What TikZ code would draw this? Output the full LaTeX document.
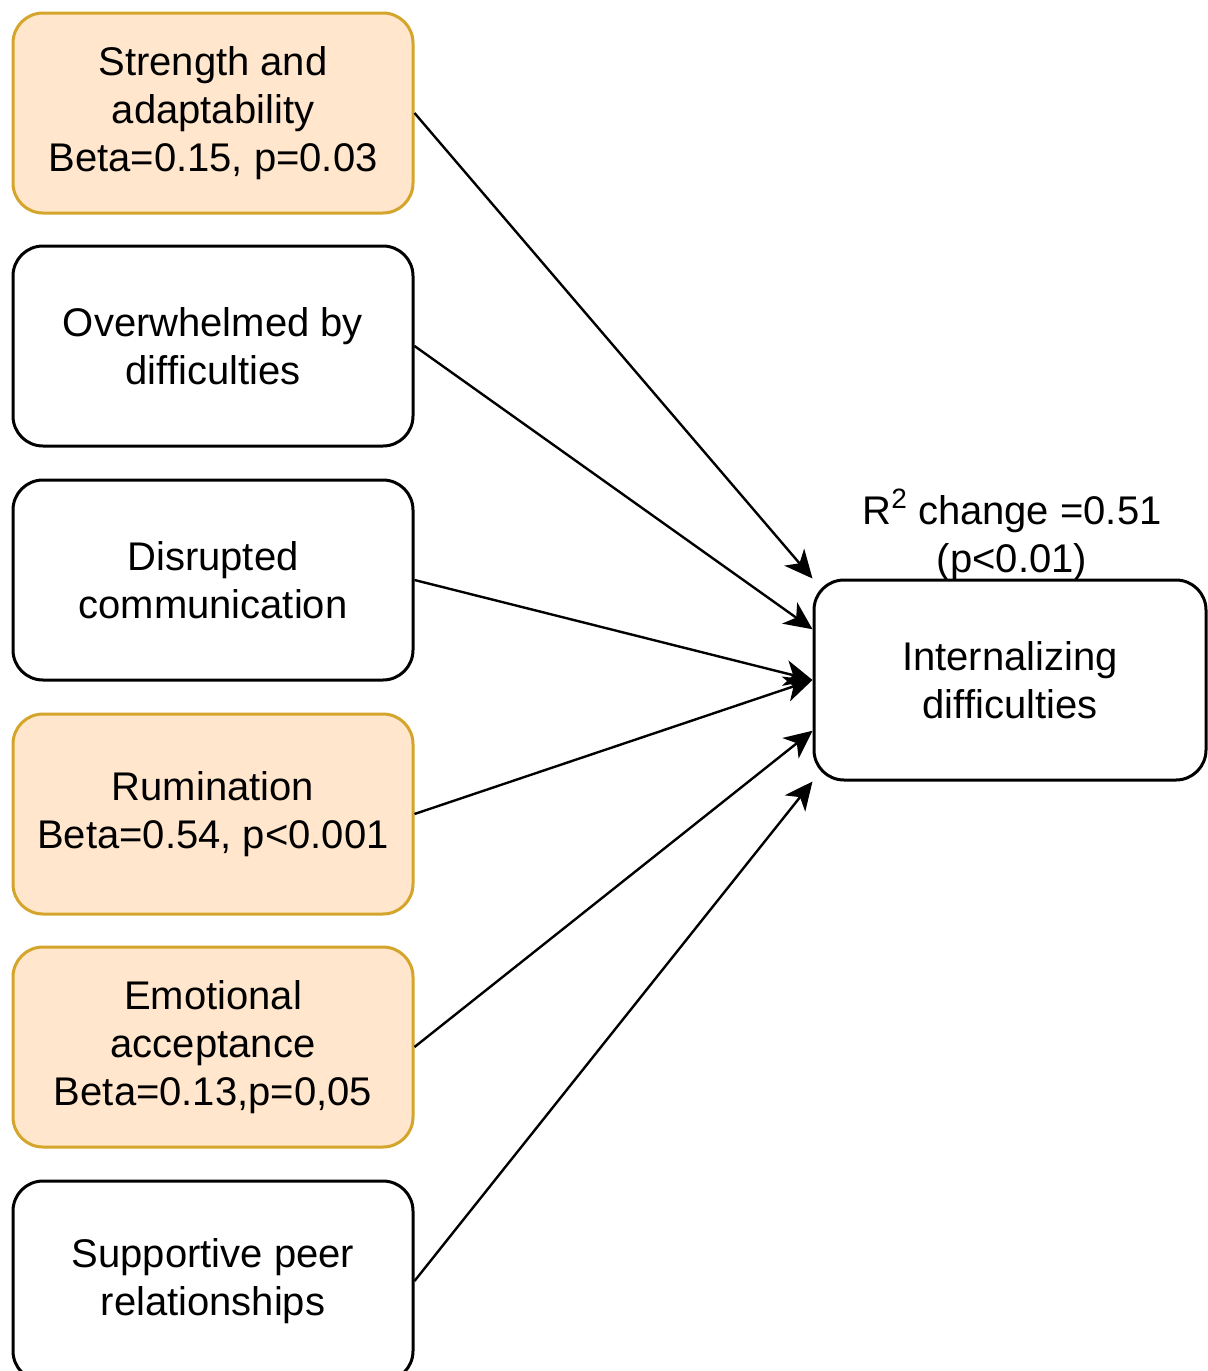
\documentclass[tikz,border=0pt]{standalone}
\usepackage{fontspec}
\setmainfont{Liberation Sans}
\usetikzlibrary{arrows.meta,calc}

\definecolor{sigfill}{HTML}{FFE6CC}
\definecolor{sigdraw}{HTML}{D4A52A}

\tikzset{
    factor/.style={draw, line width=1.5pt, rounded corners=15pt, fill=white,
        minimum width=200pt, minimum height=100pt, inner sep=0pt,
        align=center, font=\fontsize{20}{24}\selectfont},
    signif/.style={factor, fill=sigfill, draw=sigdraw},
    link/.style={line width=1.2pt, -{Stealth[length=14pt,width=13pt,inset=4pt]}},
}

\begin{document}
\begin{tikzpicture}[x=0.5pt, y=-0.5pt]
    \useasboundingbox (0,0) rectangle (1208,1371);

    % predictors
    \node[signif] (strength) at (213,113) {Strength and\\adaptability\\Beta=0.15, p=0.03};
    \node[factor] (overwhelmed) at (213,346) {Overwhelmed by\\difficulties};
    \node[factor] (disrupted) at (213,580) {Disrupted\\communication};
    \node[signif] (rumination) at (213,814) {Rumination\\Beta=0.54, p<0.001};
    \node[signif] (acceptance) at (213,1047) {Emotional\\acceptance\\Beta=0.13,p=0,05};
    \node[factor] (peer) at (213,1281) {Supportive peer\\relationships};

    % outcome
    \node[factor, minimum width=196pt] (internal) at (1010,680) {Internalizing\\difficulties};
    \node[align=center, inner sep=0pt, font=\fontsize{20}{24}\selectfont] (rsq) at (1012,535)
        {R\raisebox{8pt}{\fontsize{14}{14}\selectfont 2} change =0.51\\(p<0.01)};

    \draw[link] (strength.east) -- (internal.north west);
    \draw[link] (overwhelmed.east) -- ($(internal.north west)!0.25!(internal.south west)$);
    \draw[link] (disrupted.east) -- (internal.west);
    \draw[link] (rumination.east) -- (internal.west);
    \draw[link] (acceptance.east) -- ($(internal.north west)!0.75!(internal.south west)$);
    \draw[link] (peer.east) -- (internal.south west);
\end{tikzpicture}
\end{document}
